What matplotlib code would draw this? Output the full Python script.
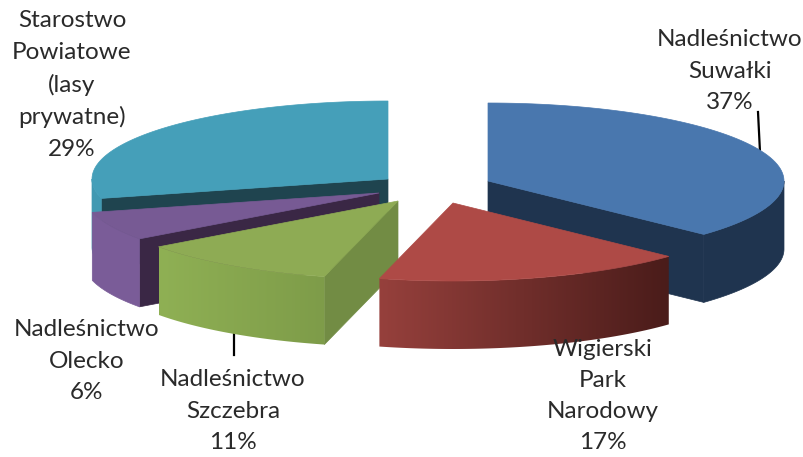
import numpy as np
import matplotlib
matplotlib.use("Agg")
import matplotlib.pyplot as plt
from matplotlib.colors import LinearSegmentedColormap
from matplotlib.patches import Polygon

plt.rcParams["font.family"] = ["Lato", "DejaVu Sans"]

# data, clockwise from 12 o'clock
categories = ["Nadleśnictwo\nSuwałki", "Wigierski\nPark\nNarodowy", "Nadleśnictwo\nSzczebra",
              "Nadleśnictwo\nOlecko", "Starostwo\nPowiatowe\n(lasy\nprywatne)"]
shares = np.array([37, 17, 11, 6, 29])

# pie geometry in pixels
RX, RY, DEPTH = 296, 78, 68
apexes = [(488, 181), (453, 203), (398, 201), (379, 193), (388, 179)]
top_colors = ["#4977AE", "#AE4A46", "#8EAB54", "#775A94", "#459FB9"]
rim_colors = ["#1F344F", None, None, "#7A5C98", "#4299B2"]
cut_colors = ["#1F344F", None, "#728C44", "#3A2745", "#1F444F"]
label_pos = [(730, 71), (603, 396), (233, 411), (87, 361), (72, 85)]

rim_maps = {
    1: LinearSegmentedColormap.from_list("red_wall", ["#96403C", "#4A1C1A"]),
    2: LinearSegmentedColormap.from_list("green_wall", ["#8FB054", "#7E9C49"]),
}


def arc(apex, a0, a1, n=80):
    t = np.radians(np.linspace(a0, a1, n))
    return np.column_stack([apex[0] + RX * np.sin(t), apex[1] - RY * np.cos(t)])


def flat(ax, pts, color, z):
    ax.add_patch(Polygon(pts, closed=True, fc=color, ec=color, lw=0.5, zorder=z))


def rim(ax, apex, a0, a1, z, color=None, cmap=None):
    # outer rim, only the part that faces the viewer
    lo, hi = max(a0, 90), min(a1, 270)
    if hi <= lo:
        return
    top = arc(apex, lo, hi)
    pts = np.vstack([top, (top + [0, DEPTH])[::-1]])
    if cmap is None:
        flat(ax, pts, color, z)
        return
    im = ax.imshow(np.linspace(0, 1, 256)[None, :], cmap=cmap, aspect="auto", zorder=z,
                   extent=[pts[:, 0].min(), pts[:, 0].max(), pts[:, 1].max(), pts[:, 1].min()])
    im.set_clip_path(Polygon(pts, closed=True, transform=ax.transData))


def cut(ax, apex, angle, color, z):
    p = arc(apex, angle, angle, 1)[0]
    flat(ax, [apex, p, p + [0, DEPTH], (apex[0], apex[1] + DEPTH)], color, z)


fig = plt.figure(figsize=(8.04, 4.57), dpi=100)
ax = fig.add_axes([0, 0, 1, 1])

ends = np.cumsum(shares) * 3.6
starts = ends - shares * 3.6

# leader lines go under the slices
ax.plot([758, 760], [112, 152], color="black", lw=1.6, zorder=1)
ax.plot([234, 234], [330, 355], color="black", lw=1.6, zorder=1)

# back to front: Starostwo, Olecko, Suwalki, Szczebra, Wigierski
for z, i in enumerate([4, 3, 0, 2, 1]):
    z = 2 + z * 3
    if cut_colors[i]:
        # the blue slice shows its closing edge, the others their opening edge
        cut(ax, apexes[i], ends[i] if i == 0 else starts[i], cut_colors[i], z)
    rim(ax, apexes[i], starts[i], ends[i], z + 1, color=rim_colors[i], cmap=rim_maps.get(i))
    flat(ax, np.vstack([[apexes[i]], arc(apexes[i], starts[i], ends[i])]), top_colors[i], z + 2)

ax.set_xlim(0, 804)
ax.set_ylim(457, 0)
ax.axis("off")

for name, share, (x, y) in zip(categories, shares, label_pos):
    ax.text(x, y, f"{name}\n{share}%", ha="center", va="center", fontsize=17.5,
            color="#2A2A2A", linespacing=1.6, zorder=30)

fig.savefig("out.png", dpi=100)
